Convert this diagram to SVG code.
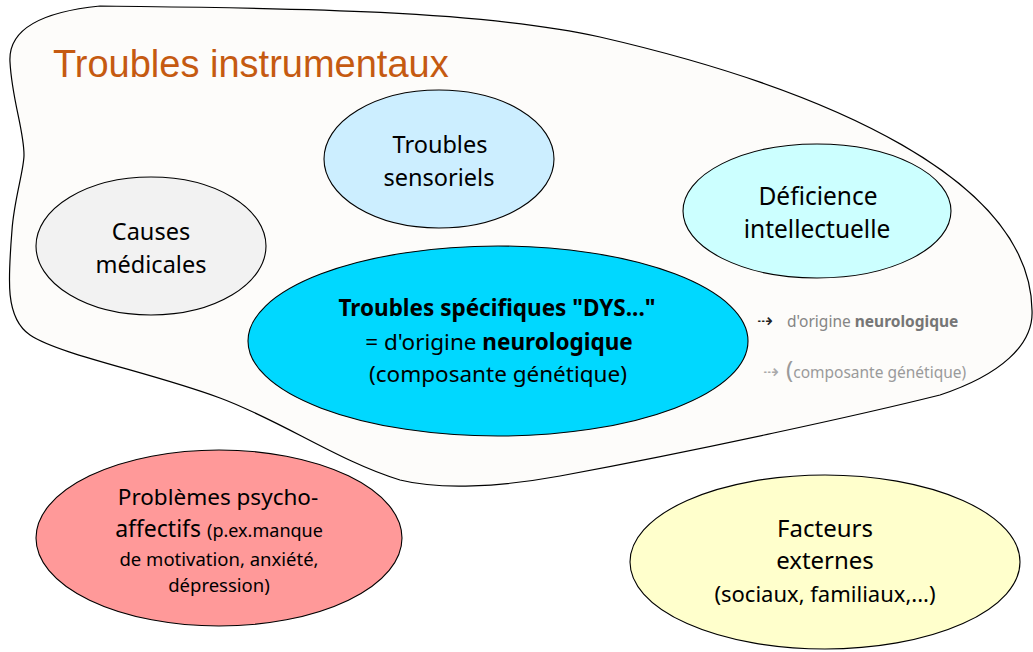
<svg xmlns="http://www.w3.org/2000/svg" width="1033" height="652" viewBox="0 0 1033 652">
  <style>
    .node { stroke: #000; stroke-width: 1.1; }
    .lbl { font-family: "Noto Sans", "DejaVu Sans", sans-serif; fill: #000; text-anchor: middle; }
    .b { font-weight: bold; }
    .note { font-family: "Noto Sans", "DejaVu Sans", sans-serif; font-size: 15.5px; }
    .arrow { font-family: "DejaVu Sans", sans-serif; font-size: 19px; }
  </style>
  <rect width="1033" height="652" fill="#ffffff"/>
  <g id="instrumentaux">
    <path d="M 10,62 C 8,30 40,12 100,6 C 250,8 470,8 600,37 C 830,90 1030,180 1032,310 C 1034,345 1000,375 940,395 C 860,415 700,450 560,476 C 500,487 440,490 400,480 C 340,462 280,420 220,398 C 150,372 60,355 30,335 C 5,318 8,280 12,230 C 14,200 24,170 24,155 C 24,130 12,100 10,62 Z" fill="#fdfcfa" stroke="#000" stroke-width="1.2"/>
    <text x="53" y="77" font-family="Liberation Sans, Arial, sans-serif" font-size="38" fill="#c55a11">Troubles instrumentaux</text>
  </g>
  <g id="sensoriels">
    <ellipse class="node" cx="439" cy="159" rx="115" ry="69" fill="#cceeff"/>
    <text class="lbl" x="440" y="153" font-size="23.5">Troubles</text>
    <text class="lbl" x="439" y="186" font-size="23.5">sensoriels</text>
  </g>
  <g id="causes">
    <ellipse class="node" cx="151" cy="246" rx="115" ry="69" fill="#f2f2f2"/>
    <text class="lbl" x="151" y="240" font-size="23.5">Causes</text>
    <text class="lbl" x="151" y="273" font-size="23.5">médicales</text>
  </g>
  <g id="deficience">
    <ellipse class="node" cx="817" cy="211" rx="134" ry="67" fill="#ccffff"/>
    <text class="lbl" x="818" y="205" font-size="24.5">Déficience</text>
    <text class="lbl" x="817" y="238" font-size="24.5">intellectuelle</text>
  </g>
  <g id="dys">
    <ellipse class="node" cx="498" cy="341" rx="250" ry="95" fill="#00d8ff"/>
    <text class="lbl b" x="497" y="316" font-size="22.5">Troubles spécifiques "DYS..."</text>
    <text class="lbl" x="499" y="350" font-size="22.5">= d'origine <tspan class="b">neurologique</tspan></text>
    <text class="lbl" x="498" y="382" font-size="22.5">(composante génétique)</text>
  </g>
  <g id="notes">
    <text class="arrow" x="757" y="327" fill="#222">⇢</text>
    <text class="note" x="787" y="327" fill="#858585">d'origine <tspan font-weight="bold" fill="#767676">neurologique</tspan></text>
    <text class="arrow" x="763" y="378" fill="#aaaaaa">⇢</text>
    <text class="note" x="786" y="378" fill="#9a9a9a"><tspan font-size="24">(</tspan>composante génétique)</text>
  </g>
  <g id="psycho">
    <ellipse class="node" cx="219" cy="538" rx="183" ry="88" fill="#ff9999"/>
    <text class="lbl" x="218" y="505" font-size="22.5">Problèmes psycho-</text>
    <text class="lbl" x="219" y="537" font-size="23">affectifs <tspan font-size="18">(p.ex.manque</tspan></text>
    <text class="lbl" x="219" y="566" font-size="18.5">de motivation, anxiété,</text>
    <text class="lbl" x="219" y="592" font-size="18.5">dépression)</text>
  </g>
  <g id="facteurs">
    <ellipse class="node" cx="825" cy="562" rx="195" ry="87" fill="#ffffcc"/>
    <text class="lbl" x="825" y="537" font-size="24">Facteurs</text>
    <text class="lbl" x="825" y="569" font-size="24">externes</text>
    <text class="lbl" x="825" y="602" font-size="22">(sociaux, familiaux,...)</text>
  </g>
  <g id="connectors"></g>
</svg>
